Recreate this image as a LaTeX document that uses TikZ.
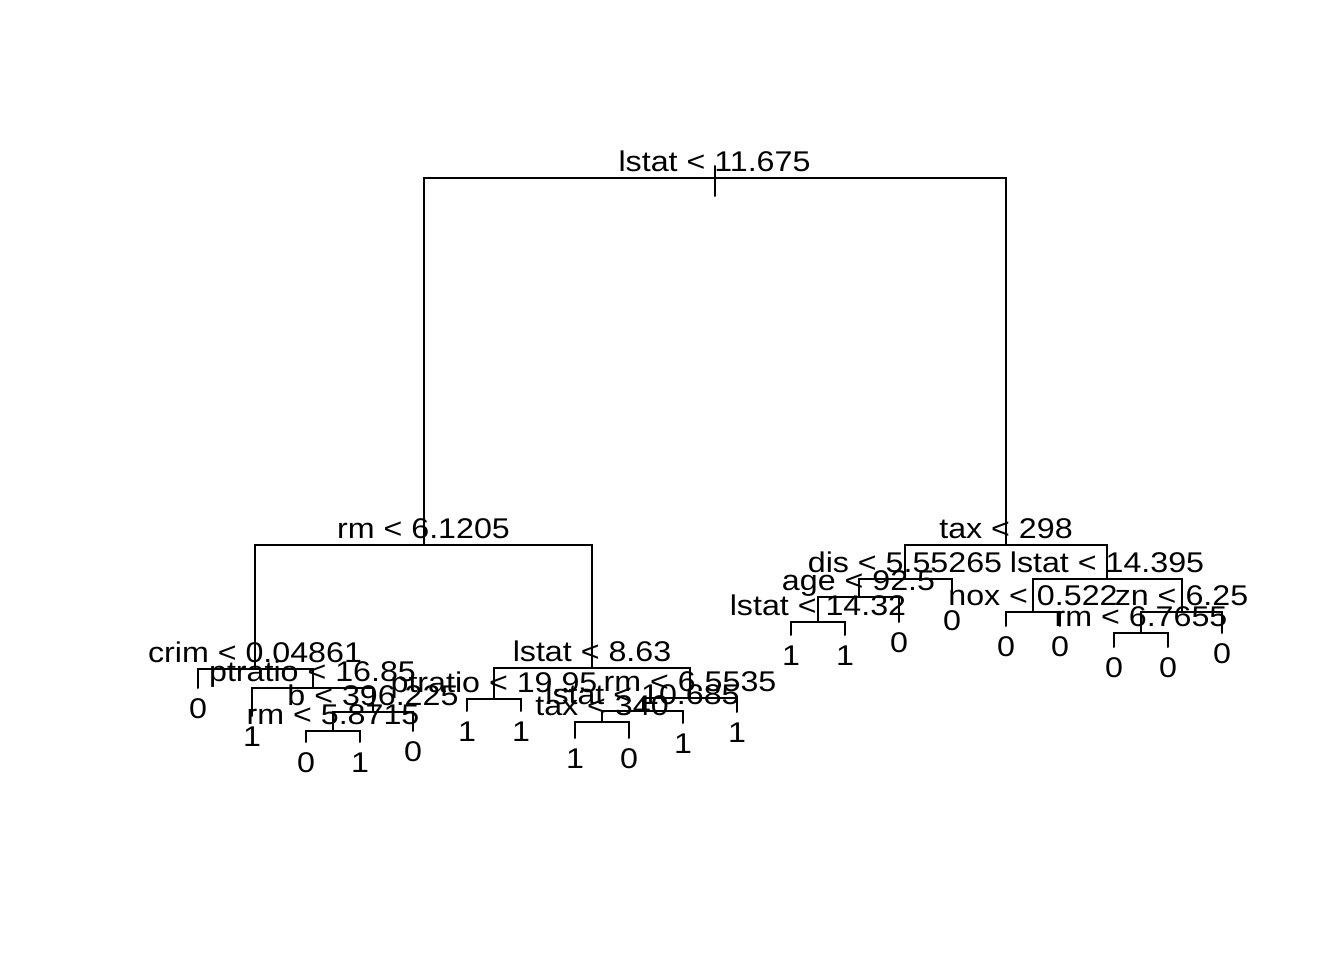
\documentclass[tikz,border=0pt]{standalone}
\usepackage{fontspec}
\setmainfont{Liberation Sans}[FakeStretch=1.13]
\tikzset{
  branch/.style={line width=2pt,line cap=round},
  split/.style={anchor=base,yshift=6.5pt,inner sep=0pt},
  leaf/.style={anchor=base,yshift=-30pt,inner sep=0pt},
  every node/.style={font=\fontsize{28.5}{34}\selectfont}
}
\begin{document}
\begin{tikzpicture}[x=1pt,y=-1pt]
\useasboundingbox (0,0) rectangle (1344,960);
% split points (x, height of their bar)
\coordinate (n1) at (714.5,178.5);
\coordinate (n2) at (423.5,545);
\coordinate (n3) at (1006,545);
\coordinate (n4) at (255,668.5);
\coordinate (n5) at (592,668);
\coordinate (n9) at (312.5,688);
\coordinate (n19) at (373,712);
\coordinate (n38) at (333,731);
\coordinate (n10) at (494,699);
\coordinate (n11) at (690,698);
\coordinate (n22) at (642.5,711);
\coordinate (n44) at (602,722);
\coordinate (n6) at (905,579);
\coordinate (n7) at (1107,579);
\coordinate (n12) at (858.5,597);
\coordinate (n24) at (818,622);
\coordinate (n14) at (1033,612);
\coordinate (n15) at (1181.5,612);
\coordinate (n30) at (1141,633);
% leaves (x, end of the stem)
\coordinate (n8) at (198,688);
\coordinate (n18) at (252,716);
\coordinate (n76) at (306,742);
\coordinate (n77) at (360,742);
\coordinate (n39) at (413,731);
\coordinate (n20) at (467,711);
\coordinate (n21) at (521,711);
\coordinate (n88) at (575,738);
\coordinate (n89) at (629,738);
\coordinate (n45) at (683,723);
\coordinate (n23) at (737,712);
\coordinate (n48) at (791,635);
\coordinate (n49) at (845,635);
\coordinate (n25) at (899,622);
\coordinate (n13) at (952,600);
\coordinate (n28) at (1006,626);
\coordinate (n29) at (1060,626);
\coordinate (n60) at (1114,647);
\coordinate (n61) at (1168,647);
\coordinate (n31) at (1222,633);
% root stem
\coordinate (stemtop) at (714.5,166);
\coordinate (stemend) at (714.5,196);
\draw[branch] (stemtop) -- (stemend);
% branches
\foreach \p/\c in {1/2,1/3,2/4,2/5,4/8,4/9,9/18,9/19,19/38,19/39,38/76,38/77,
  5/10,5/11,10/20,10/21,11/22,11/23,22/44,22/45,44/88,44/89,
  3/6,3/7,6/12,6/13,12/24,12/25,24/48,24/49,7/14,7/15,14/28,14/29,
  15/30,15/31,30/60,30/61}
  \draw[branch] (n\p) -| (n\c);
% split labels
\foreach \n/\t in {1/lstat < 11.675,2/rm < 6.1205,3/tax < 298,4/crim < 0.04861,
  9/ptratio < 16.85,19/b < 396.225,38/rm < 5.8715,5/lstat < 8.63,
  10/ptratio < 19.95,11/rm < 6.5535,22/lstat < 10.685,44/tax < 340,
  6/dis < 5.55265,7/lstat < 14.395,12/age < 92.5,24/lstat < 14.32,
  14/nox < 0.522,15/zn < 6.25,30/rm < 6.7655}
  \node[split] (t\n) at (n\n) {\t};
% leaf labels
\foreach \n/\t in {8/0,18/1,76/0,77/1,39/0,20/1,21/1,88/1,89/0,45/1,23/1,
  48/1,49/1,25/0,13/0,28/0,29/0,60/0,61/0,31/0}
  \node[leaf] (t\n) at (n\n) {\t};
\end{tikzpicture}
\end{document}
